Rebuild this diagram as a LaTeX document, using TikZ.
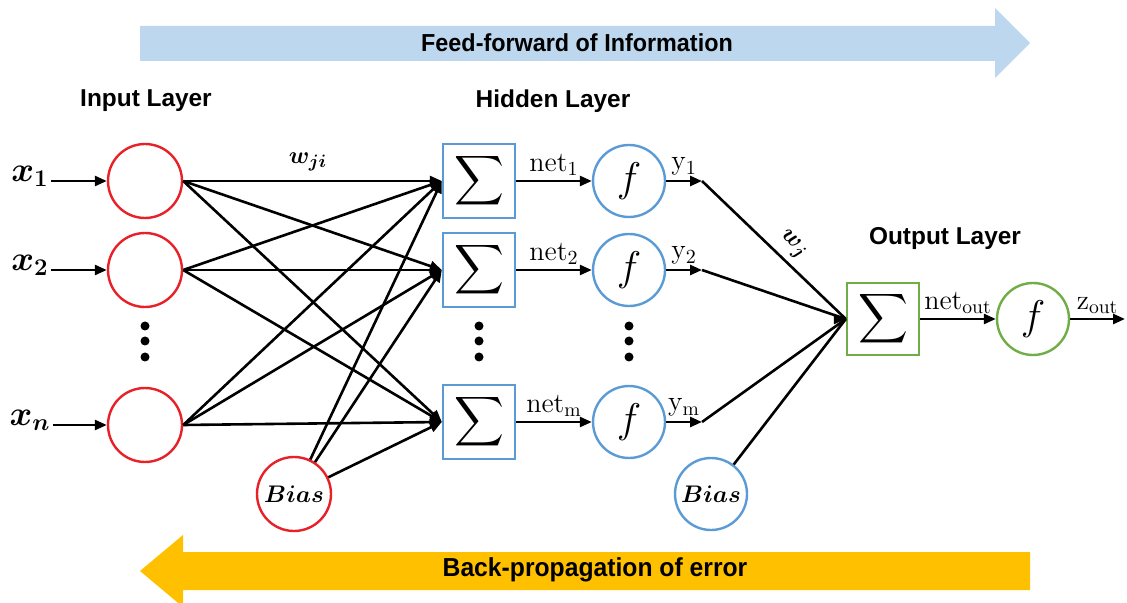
\documentclass[tikz,border=0pt]{standalone}
\usepackage{fontspec}
\usepackage{amsmath,bm}
\usetikzlibrary{arrows.meta}
\newfontfamily\labfont{Liberation Sans}
\newfontfamily\bandfont[FakeStretch=0.95]{Liberation Sans}
\definecolor{inred}{RGB}{232,32,40}
\definecolor{hblue}{RGB}{91,155,213}
\definecolor{ogreen}{RGB}{112,173,71}
\definecolor{ffblue}{RGB}{189,215,238}
\definecolor{bpgold}{RGB}{255,192,0}
\begin{document}
\begin{tikzpicture}[x=0.5pt,y=-0.5pt,
  inode/.style={circle,draw=inred,line width=1.2pt,minimum size=37pt,inner sep=0pt},
  hsum/.style={draw=hblue,line width=1.2pt,minimum width=36pt,minimum height=37pt,inner sep=0pt},
  hact/.style={circle,draw=hblue,line width=1.2pt,minimum size=36pt,inner sep=0pt},
  osum/.style={draw=ogreen,line width=1.2pt,minimum width=36pt,minimum height=36pt,inner sep=0pt},
  oact/.style={circle,draw=ogreen,line width=1.2pt,minimum size=36pt,inner sep=0pt},
  conn/.style={line width=1.3pt,-{Triangle[length=6pt,width=5pt]}},
  link/.style={line width=1.3pt},
  layer/.style={font=\labfont\bfseries\fontsize{12.2}{14}\selectfont},
  xlab/.style={font=\fontsize{17}{20}\selectfont,inner sep=1pt},
  sig/.style={font=\fontsize{18}{22}\selectfont},
  flab/.style={font=\fontsize{20}{24}\selectfont},
  tlab/.style={font=\fontsize{14}{16}\selectfont,inner sep=1pt},
  blab/.style={font=\fontsize{11.5}{14}\selectfont},
  dot/.style={circle,fill=black,inner sep=0pt,minimum size=4.5pt}]
\useasboundingbox (0,0) rectangle (1127,603);

% direction bands
\fill[ffblue] (140,26) -- (995,26) -- (995,8) -- (1030,43) -- (995,78) -- (995,61) -- (140,61) -- cycle;
\node[font=\bandfont\bfseries\fontsize{12.3}{14}\selectfont] (ff) at (577,43) {Feed-forward of Information};
\fill[bpgold] (1030,552) -- (183,552) -- (183,535) -- (140,571) -- (183,607) -- (183,590) -- (1030,590) -- cycle;
\node[font=\bandfont\bfseries\fontsize{13}{15}\selectfont] (bp) at (595,570) {Back-propagation of error};

% layer titles
\node[layer] (tin) at (146,101) {Input Layer};
\node[layer] (thid) at (553,101) {Hidden Layer};
\node[layer] (tout) at (945,239) {Output Layer};

% input layer
\node[inode] (i1) at (145,181) {};
\node[inode] (i2) at (145,270) {};
\node[inode] (in) at (145,425) {};
\node[inode,blab] (b1) at (294,494) {$\bm{Bias}$};
\foreach \yy/\nm in {326/a,341/b,357/c} \node[dot] (di\nm) at (145,\yy) {};

\node[xlab] (x1) at (30,176) {$\bm{x_1}$};
\node[xlab] (x2) at (30,265) {$\bm{x_2}$};
\node[xlab] (xn) at (30,420) {$\bm{x_n}$};
\draw[conn] (x1.east |- i1) -- (i1.west);
\draw[conn] (x2.east |- i2) -- (i2.west);
\draw[conn] (xn.east |- in) -- (in.west);

% hidden layer
\node[hsum,sig] (h1) at (479,181) {$\displaystyle\sum$};
\node[hsum,sig] (h2) at (479,270) {$\displaystyle\sum$};
\node[hsum,sig] (hm) at (479,422) {$\displaystyle\sum$};
\node[hact,flab] (f1) at (629,181) {$f$};
\node[hact,flab] (f2) at (629,270) {$f$};
\node[hact,flab] (fm) at (629,422) {$f$};
\foreach \yy/\nm in {326/a,341/b,357/c} {
  \node[dot] (dh\nm) at (479,\yy) {};
  \node[dot] (df\nm) at (629,\yy) {};
}
\node[hact,blab] (b2) at (711,494) {$\bm{Bias}$};

% input -> hidden weights
\foreach \s in {i1,i2,in} \foreach \t in {h1,h2,hm}
  \draw[conn] (\s.east) -- (\t.west);
\foreach \t in {h1,h2,hm}
  \draw[conn] (b1) -- (\t.west);
\node[font=\fontsize{13}{15}\selectfont] (wji) at (308,162) {$\bm{w_{ji}}$};

% sums -> activations
\draw[conn] (h1) -- (f1) node[tlab,midway,above=1pt] (n1) {$\mathrm{net}_1$};
\draw[conn] (h2) -- (f2) node[tlab,midway,above=1pt] (n2) {$\mathrm{net}_2$};
\draw[conn] (hm) -- (fm) node[tlab,midway,above=1pt] (nm) {$\mathrm{net}_\mathrm{m}$};

% output layer
\node[osum,sig] (o) at (883,319) {$\displaystyle\sum$};
\node[oact,flab] (of) at (1033,319) {$f$};
\coordinate (y1) at (702,181);
\coordinate (y2) at (702,270);
\coordinate (ym) at (702,422);
\coordinate (zend) at (1125,319);

\draw[conn] (f1) -- (y1) node[tlab,midway,above=1pt] (ly1) {$\mathrm{y}_1$};
\draw[conn] (f2) -- (y2) node[tlab,midway,above=1pt] (ly2) {$\mathrm{y}_2$};
\draw[conn] (fm) -- (ym) node[tlab,midway,above=1pt] (lym) {$\mathrm{y}_\mathrm{m}$};
\draw[link] (y1) -- (o.west) node[pos=0.55,sloped,above=3pt,inner sep=0pt,font=\fontsize{13}{15}\selectfont] (wj) {$\bm{w_j}$};
\draw[link] (y2) -- (o.west);
\draw[link] (ym) -- (o.west);
\draw[link] (b2) -- (o.west);
\draw[conn] ([xshift=-3pt]o.west) -- (o.west);

\draw[conn] (o) -- (of) node[tlab,midway,above=1pt] (nout) {$\mathrm{net}_\mathrm{out}$};
\draw[conn] (of) -- (zend) node[tlab,midway,above=1pt] (zout) {$\mathrm{z}_\mathrm{out}$};
\end{tikzpicture}
\end{document}
